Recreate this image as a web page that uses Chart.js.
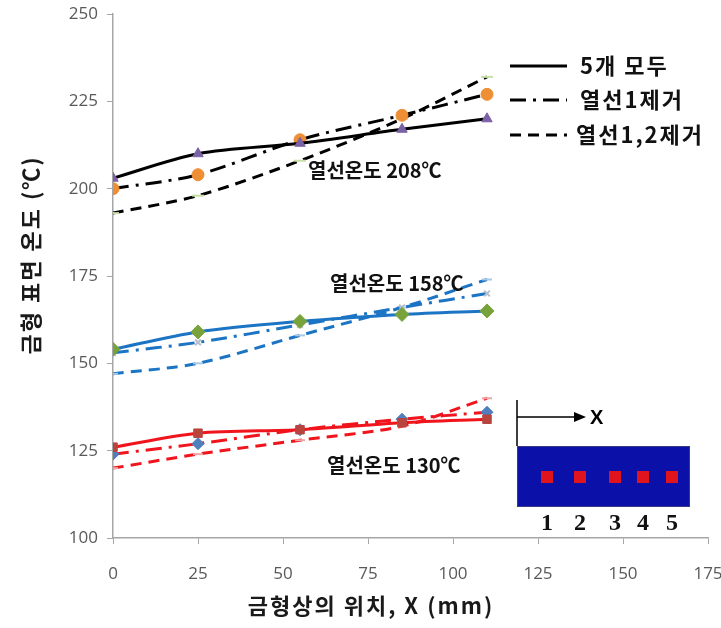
<!DOCTYPE html>
<html>
<head>
<meta charset="utf-8">
<script src="https://cdn.jsdelivr.net/npm/chart.js@4/dist/chart.umd.min.js"></script>
<style>
  html, body { margin: 0; padding: 0; background: #fff; }
  #wrap { width: 721px; height: 628px; }
</style>
</head>
<body>
<div id="wrap"><canvas id="mold-chart" width="721" height="628"></canvas></div>
<script>
// positions of the 5 heaters along the mold (mm)
const positions = [0, 25, 55, 85, 110];

// 열선온도 208℃
const t208All = [203, 210, 213, 217, 220];
const t208No1 = [200, 204, 214, 221, 227];
const t208No12 = [193, 198, 208, 220, 232];
// 열선온도 158℃
const t158All = [154, 159, 162, 164, 165];
const t158No1 = [153, 156, 161, 166, 170];
const t158No12 = [147, 150, 158, 166, 174];
// 열선온도 130℃
const t130All = [126, 130, 131, 133, 134];
const t130No1 = [124, 127, 131, 134, 136];
const t130No12 = [120, 124, 128, 132, 140];

const legendLabels = ['5개 모두', '열선1제거', '열선1,2제거'];
const groupLabels = ['열선온도 208℃', '열선온도 158℃', '열선온도 130℃'];
const xTicks = [0, 25, 50, 75, 100, 125, 150, 175];
const yTicks = [100, 125, 150, 175, 200, 225, 250];

const KR = '"Noto Sans CJK KR", "Noto Sans", sans-serif';
const DASH_DOT = [16, 7, 3, 7];
const DASHED = [11, 7];

function pts(values) {
  return values.map((v, i) => ({ x: positions[i], y: v }));
}

function series(values, color, dash, width, pStyle, pColor, pRadius) {
  return {
    data: pts(values),
    borderColor: color,
    borderWidth: width,
    borderDash: dash,
    tension: 0.3,
    fill: false,
    pointStyle: pStyle,
    pointRadius: pRadius,
    pointBackgroundColor: pColor,
    pointBorderColor: pColor,
    pointBorderWidth: pStyle === 'line' || pStyle === 'crossRot' ? 2 : 1
  };
}

// custom drawing: legend, group labels, axis titles and the mold sketch
const extras = {
  id: 'extras',
  afterDraw(chart) {
    const ctx = chart.ctx;
    ctx.save();

    // y axis title
    ctx.save();
    ctx.translate(31, 255);
    ctx.rotate(-Math.PI / 2);
    ctx.font = 'bold 22px ' + KR;
    ctx.letterSpacing = '2px';
    ctx.fillStyle = '#1a1a1a';
    ctx.textAlign = 'center';
    ctx.textBaseline = 'middle';
    ctx.fillText('금형 표면 온도 (℃)', 0, 0);
    ctx.restore();

    // x axis title
    ctx.save();
    ctx.font = 'bold 22px ' + KR;
    ctx.letterSpacing = '2px';
    ctx.fillStyle = '#1a1a1a';
    ctx.textAlign = 'center';
    ctx.textBaseline = 'middle';
    ctx.fillText('금형상의 위치, X (mm)', 371, 606);
    ctx.restore();

    // legend
    const legY = [66, 100, 135];
    const dashes = [[], DASH_DOT, DASHED];
    ctx.strokeStyle = '#000';
    ctx.lineWidth = 3;
    legendLabels.forEach((lab, i) => {
      ctx.setLineDash(dashes[i]);
      ctx.beginPath();
      ctx.moveTo(510, legY[i]);
      ctx.lineTo(567, legY[i]);
      ctx.stroke();
      ctx.setLineDash([]);
      ctx.save();
      ctx.font = 'bold 22px ' + KR;
      ctx.letterSpacing = '2px';
      ctx.fillStyle = '#111';
      ctx.textAlign = 'left';
      ctx.textBaseline = 'middle';
      ctx.fillText(lab, i === 2 ? 576 : 580, legY[i]);
      ctx.restore();
    });

    // group labels
    ctx.font = '600 20px ' + KR;
    ctx.fillStyle = '#111';
    ctx.textAlign = 'left';
    ctx.textBaseline = 'middle';
    ctx.fillText(groupLabels[0], 308, 170);
    ctx.fillText(groupLabels[1], 330, 283);
    ctx.fillText(groupLabels[2], 327, 465);

    // mold sketch with heaters
    ctx.strokeStyle = '#000';
    ctx.lineWidth = 1.5;
    ctx.beginPath();
    ctx.moveTo(517, 400);
    ctx.lineTo(517, 446);
    ctx.moveTo(517, 417);
    ctx.lineTo(577, 417);
    ctx.stroke();
    ctx.fillStyle = '#000';
    ctx.beginPath();
    ctx.moveTo(586, 417);
    ctx.lineTo(574, 412);
    ctx.lineTo(574, 422);
    ctx.closePath();
    ctx.fill();
    ctx.font = 'bold 20px "Liberation Sans", sans-serif';
    ctx.fillText('X', 590, 418);

    ctx.fillStyle = '#0a10a8';
    ctx.fillRect(517, 446, 173, 61);
    ctx.strokeStyle = '#3a3a80';
    ctx.lineWidth = 1;
    ctx.strokeRect(517.5, 446.5, 172, 60);
    const heaterX = [547, 580, 615, 643, 672];
    ctx.fillStyle = '#e0141c';
    heaterX.forEach(hx => ctx.fillRect(hx - 6, 471, 12, 12));
    ctx.fillStyle = '#111';
    ctx.font = 'bold 24px "Liberation Serif", serif';
    ctx.textAlign = 'center';
    ctx.textBaseline = 'alphabetic';
    heaterX.forEach((hx, i) => ctx.fillText(String(i + 1), hx, 530));

    ctx.restore();
  }
};

const ctx = document.getElementById('mold-chart').getContext('2d');
new Chart(ctx, {
  type: 'line',
  data: {
    datasets: [
      series(t208All, '#000', [], 3, 'triangle', '#7b62a6', 6),
      series(t208No1, '#000', DASH_DOT, 3, 'circle', '#ef8f35', 6),
      series(t208No12, '#000', DASHED, 3, 'line', '#c8dfa8', 6),
      series(t158All, '#1b74c4', [], 3, 'rectRot', '#78a33a', 7),
      series(t158No1, '#1b74c4', DASH_DOT, 3, 'crossRot', '#b7bfcc', 4),
      series(t158No12, '#1b74c4', DASHED, 3, 'line', '#a9c9e6', 5),
      series(t130All, '#f0141c', [], 3, 'rect', '#b8443e', 6),
      series(t130No1, '#f0141c', DASH_DOT, 3, 'rectRot', '#4f7fbd', 6),
      series(t130No12, '#f0141c', DASHED, 3, 'line', '#f2a3a3', 5)
    ]
  },
  options: {
    responsive: false,
    animation: false,
    layout: { padding: { top: 14, right: 13, left: 0, bottom: 0 } },
    plugins: {
      legend: { display: false },
      tooltip: { enabled: false }
    },
    scales: {
      x: {
        type: 'linear',
        min: 0,
        max: 175,
        afterBuildTicks: (scale) => { scale.ticks = xTicks.map(v => ({ value: v })); },
        afterFit: (scale) => { scale.height = 90; scale.paddingRight = 0; scale.paddingLeft = 0; },
        border: { color: '#a6a6a6', width: 1.5 },
        grid: { drawOnChartArea: false, drawTicks: true, tickLength: 6, color: '#a6a6a6' },
        ticks: {
          color: '#595959',
          padding: 20,
          font: { family: '"Open Sans", sans-serif', size: 17 },
          maxRotation: 0
        }
      },
      y: {
        min: 100,
        max: 250,
        afterBuildTicks: (scale) => { scale.ticks = yTicks.map(v => ({ value: v })); },
        afterFit: (scale) => { scale.width = 113; scale.paddingTop = 0; scale.paddingBottom = 0; },
        border: { color: '#a6a6a6', width: 1.5 },
        grid: { drawOnChartArea: false, drawTicks: true, tickLength: 6, color: '#a6a6a6' },
        ticks: {
          color: '#595959',
          padding: 9,
          font: { family: '"Open Sans", sans-serif', size: 17 }
        }
      }
    }
  },
  plugins: [extras]
});
</script>
</body>
</html>
